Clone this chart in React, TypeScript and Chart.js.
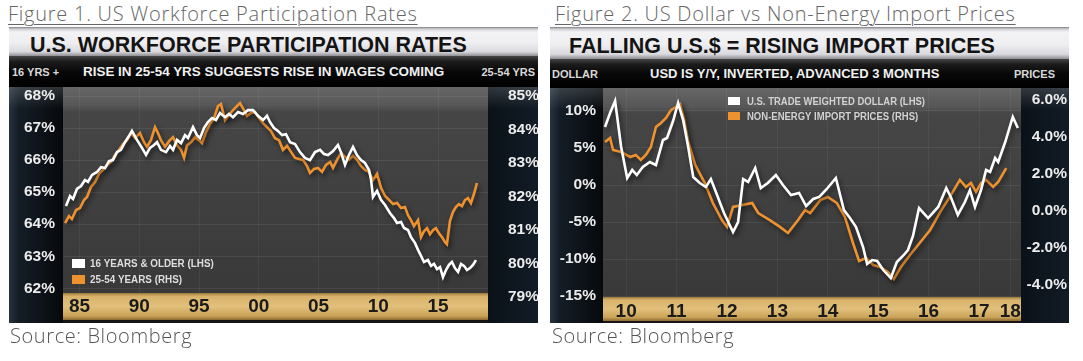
import React, { useEffect, useRef } from "react";
import { Chart, registerables } from "chart.js";

Chart.register(...registerables);

// ---------------- Figure 1 data (US workforce participation) ----------------
const fig1AllYears = [
  1983.86, 1984.2, 1984.45, 1984.78, 1985.12, 1985.45, 1985.7, 1986.04, 1986.46, 1986.79,
  1987.13, 1987.46, 1987.79, 1988.13, 1988.46, 1988.8, 1989.13, 1989.38, 1989.8, 1990.22,
  1990.56, 1990.89, 1991.23, 1991.48, 1991.81, 1992.23, 1992.56, 1992.82, 1993.15, 1993.49,
  1993.82, 1994.07, 1994.49, 1994.82, 1995.08, 1995.41, 1995.74, 1996.08, 1996.41, 1996.75,
  1997.17, 1997.5, 1997.84, 1998.26, 1998.67, 1999.09, 1999.51, 1999.93, 2000.35, 2000.68,
  2000.93, 2001.27, 2001.6, 2001.94, 2002.27, 2002.61, 2003.03, 2003.44, 2003.86, 2004.28,
  2004.7, 2005.12, 2005.45, 2005.79, 2006.21, 2006.62, 2006.87, 2007.21, 2007.54, 2007.88,
  2008.21, 2008.55, 2008.88, 2009.22, 2009.39, 2009.55, 2009.89, 2010.22, 2010.56, 2010.97,
  2011.31, 2011.56, 2011.9, 2012.15, 2012.48, 2012.73, 2013.07, 2013.32, 2013.57, 2013.82,
  2014.15, 2014.41, 2014.66, 2014.91, 2015.16, 2015.41, 2015.66, 2015.91, 2016.16, 2016.41,
  2016.67, 2016.92, 2017.17, 2017.42, 2017.67, 2017.92, 2018.17,
];
const fig1AllValues = [
  64.57, 64.88, 64.79, 65.1, 65.19, 65.38, 65.32, 65.54, 65.63, 65.78,
  65.75, 65.97, 66.0, 66.25, 66.32, 66.56, 66.75, 66.91, 66.63, 66.38,
  66.16, 66.38, 66.47, 66.56, 66.32, 66.25, 66.44, 66.32, 66.63, 66.53,
  66.78, 66.69, 67.03, 66.78, 66.69, 67.0, 67.19, 67.31, 67.25, 67.47,
  67.34, 67.44, 67.34, 67.5, 67.44, 67.56, 67.56, 67.38, 67.25, 67.38,
  67.19, 67.0, 66.91, 66.78, 66.81, 66.56, 66.5, 66.25, 66.07, 66.0,
  66.25, 66.32, 66.19, 66.16, 66.28, 66.47, 66.25, 65.85, 66.16, 66.41,
  66.16, 66.0, 65.91, 65.69, 65.38, 64.85, 65.04, 64.76, 64.6, 64.35,
  64.19, 64.04, 64.07, 63.88, 63.82, 63.6, 63.41, 63.2, 63.01, 62.82,
  62.88, 62.7, 62.76, 62.6, 62.66, 62.35, 62.57, 62.73, 62.82, 62.63,
  62.51, 62.76, 62.7, 62.57, 62.63, 62.73, 62.88,
];
const fig1PrimeYears = [
  1983.78, 1984.11, 1984.36, 1984.7, 1985.03, 1985.37, 1985.62, 1985.95, 1986.29, 1986.62,
  1986.96, 1987.29, 1987.63, 1987.96, 1988.3, 1988.63, 1988.97, 1989.3, 1989.64, 1990.05,
  1990.39, 1990.64, 1990.97, 1991.31, 1991.56, 1991.81, 1992.15, 1992.48, 1992.82, 1993.15,
  1993.49, 1993.74, 1993.99, 1994.33, 1994.66, 1994.99, 1995.24, 1995.58, 1995.91, 1996.25,
  1996.58, 1996.83, 1997.17, 1997.5, 1997.84, 1998.17, 1998.42, 1998.76, 1999.01, 1999.34,
  1999.68, 2000.01, 2000.35, 2000.68, 2001.02, 2001.35, 2001.69, 2002.02, 2002.36, 2002.69,
  2003.03, 2003.36, 2003.7, 2004.03, 2004.28, 2004.62, 2004.95, 2005.29, 2005.62, 2005.96,
  2006.21, 2006.54, 2006.88, 2007.21, 2007.55, 2007.88, 2008.22, 2008.55, 2008.89, 2009.22,
  2009.56, 2009.89, 2010.23, 2010.56, 2010.9, 2011.23, 2011.57, 2011.9, 2012.23, 2012.48,
  2012.73, 2012.98, 2013.32, 2013.57, 2013.82, 2014.07, 2014.32, 2014.57, 2014.82, 2015.07,
  2015.33, 2015.58, 2015.74, 2015.99, 2016.24, 2016.49, 2016.74, 2017.0, 2017.25, 2017.5,
  2017.75, 2018.0, 2018.25,
];
const fig1PrimeValues = [
  81.2, 81.41, 81.32, 81.59, 81.65, 81.89, 81.98, 82.28, 82.43, 82.67,
  82.79, 82.94, 83.03, 83.24, 83.39, 83.56, 83.68, 83.89, 83.74, 83.89,
  83.62, 83.48, 83.68, 84.07, 83.89, 83.68, 83.48, 83.65, 83.77, 83.53,
  83.39, 83.15, 83.53, 83.62, 83.77, 83.68, 83.59, 83.92, 84.16, 84.34,
  84.7, 84.76, 84.28, 84.43, 84.58, 84.7, 84.79, 84.58, 84.4, 84.49,
  84.52, 84.34, 84.19, 84.07, 83.95, 83.74, 83.68, 83.39, 83.51, 83.33,
  83.15, 83.12, 83.09, 82.91, 82.7, 82.82, 82.85, 82.73, 82.94, 83.03,
  82.85, 83.09, 83.3, 83.18, 83.09, 83.21, 83.09, 82.91, 82.79, 82.73,
  82.49, 82.67, 82.25, 82.01, 81.89, 81.77, 81.8, 81.65, 81.68, 81.44,
  81.29, 81.11, 81.29, 80.78, 80.96, 81.05, 80.87, 80.99, 81.05, 80.9,
  80.78, 80.63, 80.57, 81.26, 81.53, 81.68, 81.77, 81.71, 81.89, 81.95,
  81.8, 82.07, 82.4,
];
const fig1XTicks = [1985, 1990, 1995, 2000, 2005, 2010, 2015];
const fig1XLabels = ["85", "90", "95", "00", "05", "10", "15"];
const fig1LeftTicks = [62, 63, 64, 65, 66, 67, 68];
const fig1RightTicks = [79, 80, 81, 82, 83, 84, 85];

// ---------------- Figure 2 data (USD vs non-energy import prices) ----------------
const fig2UsdYears = [
  2010.08, 2010.18, 2010.28, 2010.4, 2010.52, 2010.62, 2010.71, 2010.83, 2010.97, 2011.09,
  2011.23, 2011.31, 2011.43, 2011.53, 2011.63, 2011.73, 2011.83, 2011.96, 2012.08, 2012.18,
  2012.28, 2012.44, 2012.62, 2012.72, 2012.82, 2012.92, 2013.06, 2013.17, 2013.31, 2013.47,
  2013.61, 2013.77, 2013.93, 2014.07, 2014.21, 2014.33, 2014.48, 2014.66, 2014.82, 2014.94,
  2015.06, 2015.2, 2015.28, 2015.38, 2015.48, 2015.6, 2015.75, 2015.87, 2015.99, 2016.09,
  2016.19, 2016.31, 2016.49, 2016.69, 2016.85, 2016.94, 2017.08, 2017.22, 2017.32, 2017.42,
  2017.54, 2017.64, 2017.72, 2017.82, 2017.88, 2018.02, 2018.17, 2018.27,
];
const fig2UsdValues = [
  7.84, 9.73, 11.35, 5.14, 0.95, 2.03, 1.35, 2.43, 3.11, 2.7,
  6.08, 6.35, 8.65, 11.08, 8.78, 5.14, 1.08, 0.27, -0.27, 0.81,
  -0.95, -3.78, -6.35, -5.0, 0.81, 0.41, 2.3, -0.41, 0.27, 1.35,
  0.0, -1.35, -1.08, -2.84, -1.89, -1.62, -0.54, 0.95, -3.4, -4.46,
  -5.68, -8.38, -10.68, -10.14, -10.27, -11.49, -12.57, -10.41, -9.59, -8.78,
  -6.89, -3.11, -4.46, -2.97, -0.41, -1.62, -4.05, -2.3, -0.68, -2.97,
  -0.68, 2.03, 1.76, 3.65, 3.11, 5.81, 9.19, 7.7,
];
const fig2ImpYears = [
  2010.08, 2010.18, 2010.24, 2010.4, 2010.58, 2010.69, 2010.79, 2010.89, 2010.99, 2011.09,
  2011.19, 2011.29, 2011.39, 2011.49, 2011.57, 2011.65, 2011.73, 2011.87, 2012.06, 2012.22,
  2012.4, 2012.5, 2012.62, 2012.8, 2013.0, 2013.12, 2013.35, 2013.55, 2013.71, 2013.91,
  2014.05, 2014.15, 2014.35, 2014.5, 2014.68, 2014.84, 2015.0, 2015.12, 2015.26, 2015.4,
  2015.54, 2015.69, 2015.81, 2015.95, 2016.13, 2016.29, 2016.53, 2016.73, 2016.92, 2017.12,
  2017.24, 2017.34, 2017.44, 2017.54, 2017.64, 2017.78, 2017.88, 2018.04,
];
const fig2ImpValues = [
  3.73, 3.95, 3.3, 3.19, 2.92, 3.03, 2.76, 3.03, 3.46, 4.54,
  4.76, 5.03, 5.46, 5.62, 5.78, 4.92, 3.73, 2.49, 1.51, 0.43,
  -0.49, -0.86, 0.22, 0.32, 0.43, -0.11, -0.49, -0.86, -1.19, -0.49,
  0.05, -0.11, 0.59, 0.76, 0.43, -0.32, -1.73, -2.7, -2.54, -2.92,
  -3.03, -3.3, -3.68, -3.03, -2.38, -1.84, -1.03, -0.05, 0.76, 1.68,
  1.3, 1.51, 1.03, 1.51, 1.68, 1.3, 1.57, 2.32,
];
const fig2XTicks = [2010.5, 2011.5, 2012.5, 2013.5, 2014.5, 2015.5, 2016.5, 2017.5, 2018.12];
const fig2XLabels = ["10", "11", "12", "13", "14", "15", "16", "17", "18"];
const fig2LeftTicks = [-15, -10, -5, 0, 5, 10];
const fig2RightTicks = [-4, -2, 0, 2, 4, 6];

// ---------------- styling ----------------
const SANS = "'Liberation Sans', Arial, Helvetica, sans-serif";
const CAPTION = "'Open Sans', Lato, 'DejaVu Sans', sans-serif";
const WHITE = "#ffffff";
const ORANGE = "#ee9230";

const panelBackground = {
  id: "panelBackground",
  beforeDraw(chart: any) {
    const { ctx, chartArea: ca, width, height } = chart;
    const xs = chart.scales.x;
    ctx.save();
    let g = ctx.createLinearGradient(0, 0, ca.left, 0);
    g.addColorStop(0, "#26333e");
    g.addColorStop(0.18, "#141d26");
    g.addColorStop(1, "#06090c");
    ctx.fillStyle = g;
    ctx.fillRect(0, 0, ca.left, height);
    g = ctx.createLinearGradient(ca.right, 0, width, 0);
    g.addColorStop(0, "#0a1118");
    g.addColorStop(1, "#121c26");
    ctx.fillStyle = g;
    ctx.fillRect(ca.right, 0, width - ca.right, height);
    g = ctx.createLinearGradient(0, ca.top, 0, ca.bottom);
    g.addColorStop(0, "#666666");
    g.addColorStop(0.09, "#575757");
    g.addColorStop(0.12, "#464646");
    g.addColorStop(1, "#393939");
    ctx.fillStyle = g;
    ctx.fillRect(ca.left, ca.top, ca.right - ca.left, ca.bottom - ca.top);
    g = ctx.createLinearGradient(0, 0, 0, 22);
    g.addColorStop(0, "rgba(255,255,255,0.16)");
    g.addColorStop(1, "rgba(255,255,255,0)");
    ctx.fillStyle = g;
    ctx.fillRect(0, 0, ca.left, 22);
    ctx.fillRect(ca.right, 0, width - ca.right, 22);
    ctx.fillStyle = "#151515";
    ctx.fillRect(ca.left, xs.top, ca.right - ca.left, height - xs.top);
    g = ctx.createLinearGradient(0, xs.top, 0, xs.bottom);
    g.addColorStop(0, "#9a783a");
    g.addColorStop(0.12, "#d7b26a");
    g.addColorStop(0.5, "#e2c07b");
    g.addColorStop(0.85, "#c9a257");
    g.addColorStop(1, "#8b6a31");
    ctx.fillStyle = g;
    ctx.fillRect(ca.left, xs.top, ca.right - ca.left, xs.bottom - xs.top);
    ctx.restore();
  },
};

const lineShadow = {
  id: "lineShadow",
  beforeDatasetDraw(chart: any) {
    const c = chart.ctx;
    c.save();
    c.shadowColor = "rgba(0,0,0,0.55)";
    c.shadowBlur = 5;
    c.shadowOffsetX = 2;
    c.shadowOffsetY = 3;
  },
  afterDatasetDraw(chart: any) {
    chart.ctx.restore();
  },
};

// legend drawn from the datasets' own labels and colours, with condensed lettering
const boxLegend = {
  id: "boxLegend",
  afterDatasetsDraw(chart: any, _args: any, opts: any) {
    const { ctx, chartArea } = chart;
    ctx.save();
    ctx.font = `bold ${opts.size}px ${SANS}`;
    ctx.textBaseline = "middle";
    ctx.textAlign = "left";
    chart.data.datasets.forEach((ds: any, i: number) => {
      const y = chartArea.top + opts.y + i * opts.gap;
      const x = chartArea.left + opts.x;
      ctx.fillStyle = ds.borderColor;
      ctx.fillRect(x, Math.round(y - opts.boxH / 2), opts.boxW, opts.boxH);
      ctx.save();
      ctx.translate(x + opts.boxW + opts.textGap, y + 0.5);
      ctx.scale(opts.squeeze, 1);
      ctx.fillStyle = opts.color;
      ctx.fillText(ds.label, 0, 0);
      ctx.restore();
    });
    ctx.restore();
  },
};

function yAxis(position: string, min: number, max: number, ticks: number[], fmt: (v: number) => string, width: number, padding: number, grid: boolean, crossAlign = "near") {
  return {
    type: "linear",
    position,
    min,
    max,
    bounds: "data",
    afterBuildTicks: (s: any) => {
      s.ticks = ticks.map((v) => ({ value: v }));
    },
    afterFit: (s: any) => {
      s.width = width;
      s.paddingTop = 0;
      s.paddingBottom = 0;
    },
    ticks: {
      callback: (v: any) => fmt(Number(v)),
      color: "#ececec",
      padding,
      crossAlign,
      autoSkip: false,
      font: { family: SANS, size: 15.5, weight: "bold" },
    },
    grid: grid ? { color: "rgba(255,255,255,0.07)", drawTicks: false } : { display: false },
    border: { display: false },
  };
}

function xAxis(min: number, max: number, ticks: number[], labels: string[], height: number, padding: number) {
  return {
    type: "linear",
    position: "bottom",
    min,
    max,
    bounds: "data",
    afterBuildTicks: (s: any) => {
      s.ticks = ticks.map((v) => ({ value: v }));
    },
    afterFit: (s: any) => {
      s.height = height;
      s.paddingLeft = 0;
      s.paddingRight = 0;
    },
    ticks: {
      callback: (_v: any, i: number) => labels[i],
      autoSkip: false,
      maxRotation: 0,
      minRotation: 0,
      padding,
      color: "#1b1b1b",
      font: { family: SANS, size: 19, weight: "bold" },
    },
    grid: { color: "rgba(255,255,255,0.05)", drawTicks: false },
    border: { display: false },
  };
}

function lineSet(label: string, xs: number[], ys: number[], color: string, axis: string) {
  return {
    label,
    data: xs.map((x, i) => ({ x, y: ys[i] })),
    yAxisID: axis,
    borderColor: color,
    backgroundColor: color,
    borderWidth: 2.6,
    pointRadius: 0,
    tension: 0,
    fill: false,
  };
}

function fig1Config(): any {
  return {
    type: "line",
    data: {
      datasets: [
        lineSet("16 YEARS & OLDER (LHS)", fig1AllYears, fig1AllValues, WHITE, "y"),
        lineSet("25-54 YEARS (RHS)", fig1PrimeYears, fig1PrimeValues, ORANGE, "y1"),
      ],
    },
    options: {
      responsive: false,
      maintainAspectRatio: false,
      animation: false,
      events: [],
      layout: { padding: { left: 0, right: 0, top: 0, bottom: 3 } },
      scales: {
        x: xAxis(1983.611, 2019.176, fig1XTicks, fig1XLabels, 27, 2),
        y: yAxis("left", 61.853, 68.281, fig1LeftTicks, (v) => `${v}%`, 54, 8, true),
        y1: yAxis("right", 79.111, 85.269, fig1RightTicks, (v) => `${v}%`, 50, 12, false),
      },
      plugins: {
        legend: { display: false },
        tooltip: { enabled: false },
        boxLegend: { x: 9, y: 176, gap: 16, boxW: 13, boxH: 9, textGap: 5, size: 11.6, squeeze: 0.85, color: "#dedede" },
      },
    },
    plugins: [panelBackground, lineShadow, boxLegend],
  };
}

function fig2Config(): any {
  return {
    type: "line",
    data: {
      datasets: [
        lineSet("U.S. TRADE WEIGHTED DOLLAR (LHS)", fig2UsdYears, fig2UsdValues, WHITE, "y"),
        lineSet("NON-ENERGY IMPORT PRICES (RHS)", fig2ImpYears, fig2ImpValues, ORANGE, "y1"),
      ],
    },
    options: {
      responsive: false,
      maintainAspectRatio: false,
      animation: false,
      events: [],
      layout: { padding: { left: 0, right: 2, top: 0, bottom: 2 } },
      scales: {
        x: xAxis(2010.04, 2018.333, fig2XTicks, fig2XLabels, 24, 3.5),
        y: yAxis("left", -15.135, 13.108, fig2LeftTicks, (v) => `${v}%`, 53, 7, true),
        y1: yAxis("right", -4.649, 6.649, fig2RightTicks, (v) => `${v.toFixed(1)}%`, 46, 9, false, "far"),
      },
      plugins: {
        legend: { display: false },
        tooltip: { enabled: false },
        boxLegend: { x: 125, y: 13, gap: 15, boxW: 12, boxH: 8, textGap: 7, size: 11.2, squeeze: 0.85, color: "#d2d2d2" },
      },
    },
    plugins: [panelBackground, lineShadow, boxLegend],
  };
}

function ChartCanvas(props: { left: number; top: number; width: number; height: number; build: () => any }) {
  const ref = useRef<HTMLCanvasElement | null>(null);
  useEffect(() => {
    const chart = new Chart(ref.current as HTMLCanvasElement, props.build());
    return () => chart.destroy();
  }, []);
  return (
    <canvas
      ref={ref}
      width={props.width}
      height={props.height}
      style={{ position: "absolute", left: props.left, top: props.top, width: props.width, height: props.height, display: "block" }}
    />
  );
}

function Txt(props: { x: number; y: number; text: string; size: number; lh?: number; align?: "left" | "right"; style?: any }) {
  const lh = props.lh ?? Math.round(props.size * 1.3);
  const pos: any = props.align === "right" ? { right: 1083 - props.x } : { left: props.x };
  return (
    <div style={{ position: "absolute", top: props.y - lh / 2, ...pos, fontSize: props.size, lineHeight: `${lh}px`, whiteSpace: "nowrap", ...props.style }}>
      {props.text}
    </div>
  );
}

function Panel(props: {
  left: number; width: number; titleBottom: number; plotTop: number; canvasHeight: number;
  title: string; titleX: number; titleY: number;
  subLeft: string; subLeftX: number; sub: string; subX: number; subSize: number; subRight: string; subRightX: number; subY: number;
  build: () => any;
}) {
  const bandTop = 27;
  return (
    <>
      <div
        style={{
          position: "absolute", left: props.left, top: bandTop, width: props.width, height: props.titleBottom - bandTop,
          background: "linear-gradient(to bottom, #7d7d82 0px, #cfcfd4 2px, #f3f3f6 5px, #eeeef1 55%, #dadade 85%, #8e8e92 100%)",
        }}
      />
      <div
        style={{
          position: "absolute", left: props.left, top: props.titleBottom, width: props.width, height: props.plotTop - props.titleBottom,
          background: "linear-gradient(to bottom, #454545 0%, #1c1c1c 18%, #080808 50%, #000000 100%)",
        }}
      />
      <Txt x={props.titleX} y={props.titleY} text={props.title} size={21.5} lh={26}
        style={{ fontFamily: SANS, fontWeight: 700, color: "#141414" }} />
      <Txt x={props.subLeftX} y={props.subY} text={props.subLeft} size={11} lh={14}
        style={{ fontFamily: SANS, fontWeight: 700, color: "#d8d8d8" }} />
      <Txt x={props.subX} y={props.subY} text={props.sub} size={props.subSize} lh={16}
        style={{ fontFamily: SANS, fontWeight: 700, color: "#f0f0f0" }} />
      <Txt x={props.subRightX} y={props.subY} text={props.subRight} size={11} lh={14} align="right"
        style={{ fontFamily: SANS, fontWeight: 700, color: "#d8d8d8" }} />
      <ChartCanvas left={props.left} top={props.plotTop} width={props.width} height={props.canvasHeight} build={props.build} />
    </>
  );
}

const captionStyle = {
  fontFamily: CAPTION, fontWeight: 300, color: "#666666", textDecoration: "underline",
  textDecorationThickness: "1px", textUnderlineOffset: "3px", letterSpacing: "0.75px",
};
const sourceStyle = { fontFamily: CAPTION, fontWeight: 300, color: "#555555", letterSpacing: "0.6px" };

export default function App() {
  return (
    <div style={{ position: "fixed", left: 0, top: 0, width: 1083, height: 361, background: "#ffffff", overflow: "hidden" }}>
      <Txt x={8} y={14} text="Figure 1. US Workforce Participation Rates" size={20} lh={24} style={captionStyle} />
      <Txt x={555} y={14} text="Figure 2. US Dollar vs Non-Energy Import Prices" size={20} lh={24} style={captionStyle} />
      <Panel
        left={9} width={529} titleBottom={56} plotTop={87} canvasHeight={236}
        title="U.S. WORKFORCE PARTICIPATION RATES" titleX={30} titleY={45}
        subLeft="16 YRS +" subLeftX={12} sub="RISE IN 25-54 YRS SUGGESTS RISE IN WAGES COMING" subX={83} subSize={13.45}
        subRight="25-54 YRS" subRightX={535} subY={71.5}
        build={fig1Config}
      />
      <Panel
        left={550} width={519} titleBottom={59} plotTop={88} canvasHeight={235}
        title="FALLING U.S.$ = RISING IMPORT PRICES" titleX={569} titleY={45.5}
        subLeft="DOLLAR" subLeftX={552} sub="USD IS Y/Y, INVERTED, ADVANCED 3 MONTHS" subX={650} subSize={13}
        subRight="PRICES" subRightX={1055} subY={73.5}
        build={fig2Config}
      />
      <Txt x={10} y={336} text="Source: Bloomberg" size={20} lh={24} style={sourceStyle} />
      <Txt x={552} y={336} text="Source: Bloomberg" size={20} lh={24} style={sourceStyle} />
    </div>
  );
}
